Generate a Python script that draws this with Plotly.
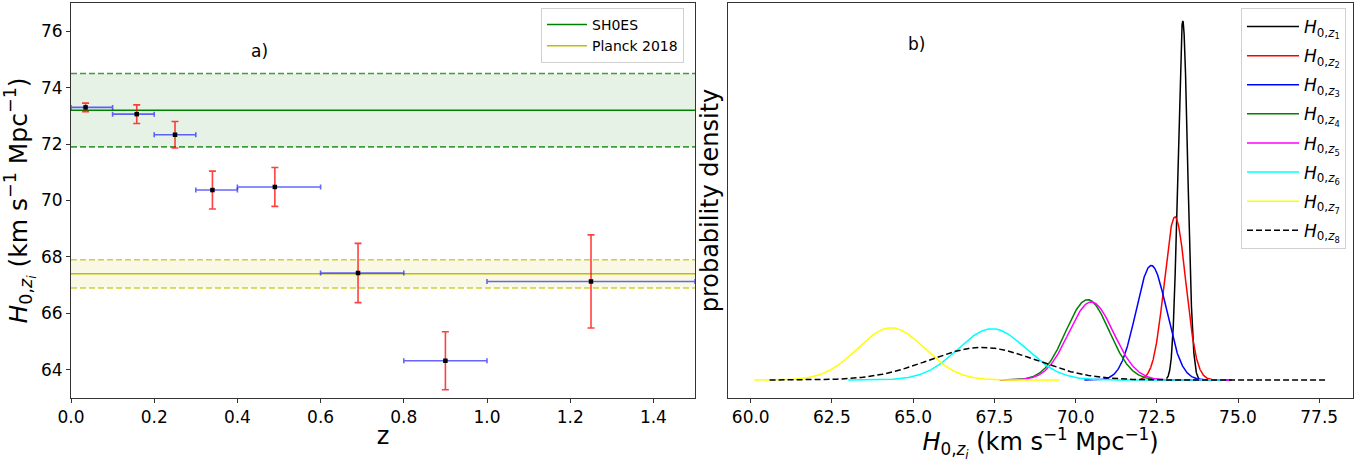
import numpy as np
import plotly.graph_objects as go

# ---------------- data ----------------
z_mid = [0.035, 0.158, 0.25, 0.34, 0.49, 0.69, 0.90, 1.25]
z_lo = [0.0, 0.1, 0.2, 0.3, 0.4, 0.6, 0.8, 1.0]
z_hi = [0.1, 0.2, 0.3, 0.4, 0.6, 0.8, 1.0, 1.5]
H0 = [73.30, 73.06, 72.33, 70.37, 70.48, 67.43, 64.32, 67.13]
H0_err = [0.15, 0.33, 0.47, 0.67, 0.69, 1.05, 1.03, 1.65]

shoes_mean, shoes_err = 73.2, 1.3
planck_mean, planck_err = 67.4, 0.5

# right panel: curve ranges (min/max of sampled H0)
curve_lo = [72.8, 72.0, 70.27, 67.7, 67.66, 63.0, 60.11, 60.58]
curve_hi = [73.8, 74.6, 74.8, 74.5, 74.8, 74.6, 69.51, 77.73]
curve_colors = ["black", "red", "blue", "green", "magenta", "cyan", "yellow", "black"]
curve_dash = ["solid"] * 7 + ["6px,3px"]

FONT = "DejaVu Sans"
W, H = 1364, 462

# layout pixel positions
L1, R1 = 71, 695
L2, R2 = 728, 1353
TOP, BOT = 3, 398
PW = R2 - L1
PH = BOT - TOP


def px(x):
    return (x - L1) / PW


def py(y):
    return (BOT - y) / PH


fig = go.Figure()

# --- left panel: bands ---
fig.add_shape(type="rect", xref="x", yref="y", x0=0, x1=1.5,
              y0=shoes_mean - shoes_err, y1=shoes_mean + shoes_err,
              fillcolor="rgba(0,128,0,0.1)", line_width=0, layer="below")
fig.add_shape(type="rect", xref="x", yref="y", x0=0, x1=1.5,
              y0=planck_mean - planck_err, y1=planck_mean + planck_err,
              fillcolor="rgba(191,191,0,0.1)", line_width=0, layer="below")

for yv in (shoes_mean - shoes_err, shoes_mean + shoes_err):
    fig.add_trace(go.Scatter(x=[0, 1.5], y=[yv, yv], mode="lines",
                             line=dict(color="rgba(0,128,0,0.75)", width=1.6, dash="6px,3px"),
                             showlegend=False, hoverinfo="skip", xaxis="x", yaxis="y"))
for yv in (planck_mean - planck_err, planck_mean + planck_err):
    fig.add_trace(go.Scatter(x=[0, 1.5], y=[yv, yv], mode="lines",
                             line=dict(color="rgba(191,191,0,0.75)", width=1.6, dash="6px,3px"),
                             showlegend=False, hoverinfo="skip", xaxis="x", yaxis="y"))

fig.add_trace(go.Scatter(x=[0, 1.5], y=[shoes_mean, shoes_mean], mode="lines",
                         line=dict(color="green", width=1.5), name="SH0ES",
                         legend="legend", xaxis="x", yaxis="y"))
fig.add_trace(go.Scatter(x=[0, 1.5], y=[planck_mean, planck_mean], mode="lines",
                         line=dict(color="#bfbf00", width=1.5), name="Planck 2018",
                         legend="legend", xaxis="x", yaxis="y"))

# --- left panel: error bars ---
xplus = [h - m for h, m in zip(z_hi, z_mid)]
xminus = [m - l for m, l in zip(z_mid, z_lo)]
fig.add_trace(go.Scatter(
    x=z_mid, y=H0, mode="markers",
    marker=dict(color="rgba(0,0,0,0)", size=1),
    error_x=dict(type="data", symmetric=False, array=xplus, arrayminus=xminus,
                 color="rgba(0,0,255,0.6)", thickness=1.6, width=2.5),
    showlegend=False, xaxis="x", yaxis="y"))
fig.add_trace(go.Scatter(
    x=z_mid, y=H0, mode="markers",
    marker=dict(color="black", size=4.5, symbol="square"),
    error_y=dict(type="data", array=H0_err, color="rgba(255,0,0,0.75)",
                 thickness=1.6, width=3.5),
    showlegend=False, xaxis="x", yaxis="y"))

# --- right panel: distributions ---
for i in range(8):
    xs = np.linspace(curve_lo[i], curve_hi[i], 600)
    ys = np.exp(-0.5 * ((xs - H0[i]) / H0_err[i]) ** 2) / (H0_err[i] * np.sqrt(2 * np.pi))
    fig.add_trace(go.Scatter(
        x=xs, y=ys, mode="lines",
        line=dict(color=curve_colors[i], width=1.5, dash=curve_dash[i]),
        name=f"<i>H</i><sub>0,<i>z</i><sub>{i+1}</sub></sub>",
        legend="legend2", legendgroup=f"g{i}",
        xaxis="x2", yaxis="y2"))

ypk = 1 / (min(H0_err) * np.sqrt(2 * np.pi))
pad = 0.05 * ypk
y2lo, y2hi = -pad, ypk + pad

axis_common = dict(showline=True, linecolor="#333", linewidth=1, mirror=True,
                   ticks="outside", ticklen=4, tickcolor="#333", showgrid=False,
                   zeroline=False, automargin=False,
                   tickfont=dict(family=FONT, size=17, color="black"))

HTITLE = "<i>H</i><sub>0,<i>z<sub>i</sub></i></sub> (km s<sup>−1</sup> Mpc<sup>−1</sup>)"

fig.update_layout(
    width=W, height=H,
    margin=dict(l=L1, r=W - R2, t=TOP, b=H - BOT, autoexpand=False),
    paper_bgcolor="white", plot_bgcolor="white",
    font=dict(family=FONT, color="black"),
    xaxis=dict(domain=[0, px(R1)], range=[0, 1.5], tickvals=[0, 0.2, 0.4, 0.6, 0.8, 1.0, 1.2, 1.4],
               tickformat=".1f", anchor="y",
               title=dict(text="z", font=dict(family=FONT, size=24), standoff=0), **axis_common),
    yaxis=dict(domain=[0, 1], range=[63, 77], tickvals=[64, 66, 68, 70, 72, 74, 76],
               anchor="x",
               title=dict(text=HTITLE, font=dict(family=FONT, size=25), standoff=6), **axis_common),
    xaxis2=dict(domain=[px(L2), 1], range=[59.3, 78.54],
                tickvals=[60, 62.5, 65, 67.5, 70, 72.5, 75, 77.5], tickformat=".1f", anchor="y2",
                title=dict(text=HTITLE, font=dict(family=FONT, size=24), standoff=0), **axis_common),
    yaxis2=dict(domain=[0, 1], range=[y2lo, y2hi], anchor="x2",
                showticklabels=False, ticks="", showline=True, linecolor="#333", linewidth=1,
                mirror=True, showgrid=False, zeroline=False, automargin=False,
                title=dict(text="probability density", font=dict(family=FONT, size=24), standoff=1)),
    legend=dict(x=px(684), y=py(8), xanchor="right", yanchor="top",
                bgcolor="rgba(255,255,255,0.8)", bordercolor="#d0d0d0", borderwidth=1,
                font=dict(family=FONT, size=14), tracegroupgap=0, itemwidth=40),
    legend2=dict(x=px(1346), y=py(8), xanchor="right", yanchor="top",
                 bgcolor="rgba(255,255,255,0.8)", bordercolor="#d0d0d0", borderwidth=1,
                 font=dict(family=FONT, size=17), tracegroupgap=4, itemwidth=52),
    annotations=[
        dict(text="a)", x=0.454, y=75.30, xref="x", yref="y", showarrow=False,
             font=dict(family=FONT, size=17)),
        dict(text="b)", x=65.1, y=y2hi - (44 - TOP) / PH * (y2hi - y2lo), xref="x2", yref="y2",
             showarrow=False, font=dict(family=FONT, size=17)),
    ],
)

fig.write_html("out.html", post_script="document.body.style.margin='0';",
               config={"displayModeBar": False})
